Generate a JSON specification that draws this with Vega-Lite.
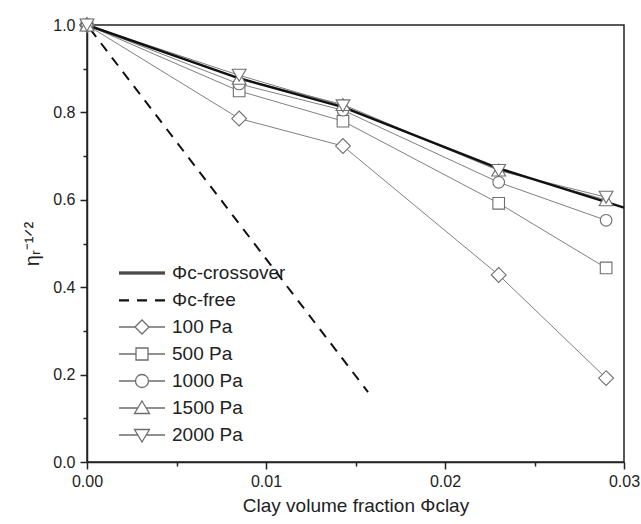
{
  "$schema": "https://vega.github.io/schema/vega-lite/v6.json",
  "width": 537,
  "height": 437,
  "autosize": {"type": "none"},
  "padding": {"left": 87, "top": 25, "right": 17, "bottom": 62},
  "background": "white",
  "config": {
    "font": "Liberation Sans",
    "view": {"stroke": "#222", "strokeWidth": 1.5},
    "axis": {
      "domainColor": "#222", "domainWidth": 1.5, "tickColor": "#222", "tickWidth": 1.5,
      "grid": false, "labelFont": "Liberation Sans", "labelFontSize": 16, "labelColor": "#222",
      "titleFont": "Liberation Sans", "titleFontWeight": "normal", "titleColor": "#222"
    },
    "legend": {
      "orient": "none", "legendX": 44, "legendY": 237, "padding": 0,
      "symbolSize": 400, "labelOffset": 19, "labelFontSize": 19, "labelFont": "Liberation Sans",
      "labelColor": "#222", "rowPadding": 6, "symbolStrokeWidth": 1.3, "labelLimit": 300
    }
  },
  "datasets": {
    "curves": [
      {"series": "Φc-crossover", "phi": 0, "eta": 1.0},
      {"series": "Φc-crossover", "phi": 0.0085, "eta": 0.878},
      {"series": "Φc-crossover", "phi": 0.0143, "eta": 0.812},
      {"series": "Φc-crossover", "phi": 0.023, "eta": 0.672},
      {"series": "Φc-crossover", "phi": 0.03, "eta": 0.582},
      {"series": "Φc-free", "phi": 0, "eta": 1.0},
      {"series": "Φc-free", "phi": 0.0157, "eta": 0.16},
      {"series": "100 Pa", "phi": 0, "eta": 1.0},
      {"series": "100 Pa", "phi": 0.0085, "eta": 0.786},
      {"series": "100 Pa", "phi": 0.0143, "eta": 0.723},
      {"series": "100 Pa", "phi": 0.023, "eta": 0.428},
      {"series": "100 Pa", "phi": 0.029, "eta": 0.192},
      {"series": "500 Pa", "phi": 0, "eta": 1.0},
      {"series": "500 Pa", "phi": 0.0085, "eta": 0.849},
      {"series": "500 Pa", "phi": 0.0143, "eta": 0.780},
      {"series": "500 Pa", "phi": 0.023, "eta": 0.592},
      {"series": "500 Pa", "phi": 0.029, "eta": 0.444},
      {"series": "1000 Pa", "phi": 0, "eta": 1.0},
      {"series": "1000 Pa", "phi": 0.0085, "eta": 0.865},
      {"series": "1000 Pa", "phi": 0.0143, "eta": 0.805},
      {"series": "1000 Pa", "phi": 0.023, "eta": 0.640},
      {"series": "1000 Pa", "phi": 0.029, "eta": 0.553},
      {"series": "1500 Pa", "phi": 0, "eta": 1.0},
      {"series": "1500 Pa", "phi": 0.0085, "eta": 0.878},
      {"series": "1500 Pa", "phi": 0.0143, "eta": 0.818},
      {"series": "1500 Pa", "phi": 0.023, "eta": 0.668},
      {"series": "1500 Pa", "phi": 0.029, "eta": 0.600},
      {"series": "2000 Pa", "phi": 0, "eta": 1.0},
      {"series": "2000 Pa", "phi": 0.0085, "eta": 0.885},
      {"series": "2000 Pa", "phi": 0.0143, "eta": 0.815},
      {"series": "2000 Pa", "phi": 0.023, "eta": 0.667},
      {"series": "2000 Pa", "phi": 0.029, "eta": 0.606}
    ]
  },
  "data": {"name": "curves"},
  "encoding": {
    "x": {
      "field": "phi", "type": "quantitative",
      "scale": {"domain": [0, 0.03], "nice": false, "zero": false},
      "axis": {
        "values": [0, 0.005, 0.01, 0.015, 0.02, 0.025, 0.03],
        "labelExpr": "round(datum.value*1000) % 10 == 0 ? format(datum.value, '.2f') : ''",
        "tickSize": {"condition": {"test": "round(datum.value*1000) % 10 == 0", "value": 7}, "value": 4},
        "labelPadding": 4, "labelFlush": false,
        "title": "Clay volume fraction Φclay", "titleFontSize": 19, "titlePadding": 7
      }
    },
    "y": {
      "field": "eta", "type": "quantitative",
      "scale": {"domain": [0, 1], "nice": false},
      "axis": {
        "values": [0, 0.1, 0.2, 0.3, 0.4, 0.5, 0.6, 0.7, 0.8, 0.9, 1.0],
        "labelExpr": "round(datum.value*10) % 2 == 0 ? format(datum.value, '.1f') : ''",
        "tickSize": {"condition": {"test": "round(datum.value*10) % 2 == 0", "value": 7}, "value": 4},
        "labelPadding": 5, "labelFlush": false,
        "title": "ηᵣ⁻¹ᐟ²", "titleFontSize": 20, "titlePadding": 10
      }
    }
  },
  "layer": [
    {
      "transform": [{"filter": "datum.series == 'Φc-free'"}],
      "mark": {"type": "line", "color": "#111", "strokeWidth": 2, "strokeDash": [10, 8], "strokeDashOffset": -5},
      "encoding": {}
    },
    {
      "transform": [{"filter": "datum.series != 'Φc-free' && datum.series != 'Φc-crossover'"}],
      "mark": {"type": "line", "color": "#808080", "strokeWidth": 1},
      "encoding": {"detail": {"field": "series", "type": "nominal"}}
    },
    {
      "transform": [{"filter": "datum.series == 'Φc-crossover'"}],
      "mark": {"type": "line", "color": "#111", "strokeWidth": 2.5},
      "encoding": {}
    },
    {
      "transform": [{"filter": "datum.series != 'Φc-free' && datum.series != 'Φc-crossover'"}],
      "mark": {"type": "point", "filled": false, "fill": "white", "fillOpacity": 1, "stroke": "#6e6e6e", "strokeWidth": 1.1, "opacity": 1},
      "encoding": {
        "shape": {
          "condition": [
            {"test": "datum.series == '100 Pa'", "value": "diamond"},
            {"test": "datum.series == '500 Pa'", "value": "square"},
            {"test": "datum.series == '1000 Pa'", "value": "circle"},
            {"test": "datum.series == '1500 Pa'", "value": "triangle-up"}
          ],
          "value": "triangle-down"
        },
        "size": {
          "condition": [
            {"test": "datum.series == '100 Pa'", "value": 220},
            {"test": "datum.series == '500 Pa'", "value": 135},
            {"test": "datum.series == '1000 Pa'", "value": 135}
          ],
          "value": 190
        }
      }
    },
    {
      "transform": [{"filter": "false"}],
      "mark": {"type": "point", "filled": false, "opacity": 1},
      "encoding": {
        "shape": {
          "field": "series", "type": "nominal",
          "scale": {
            "domain": ["Φc-crossover", "Φc-free", "100 Pa", "500 Pa", "1000 Pa", "1500 Pa", "2000 Pa"],
            "range": [
              "M-2.3,-0.08H2.3M-2.3,0.08H2.3",
              "M-2.3,0H-1.3M-0.5,0H0.5M1.3,0H2.3M-2.3,0.08H-1.3M-0.5,0.08H0.5M1.3,0.08H2.3",
              "M-2.3,0H-0.7M-0.7,0L0,-0.7L0.7,0L0,0.7ZM0.7,0H2.3",
              "M-2.3,0H-0.6M-0.6,-0.6H0.6V0.6H-0.6ZM0.6,0H2.3",
              "M-2.3,0H-0.65M-0.65,0A0.65,0.65 0 1,0 0.65,0A0.65,0.65 0 1,0 -0.65,0M0.65,0H2.3",
              "M-2.3,0H-0.42M0,-0.7L0.75,0.55H-0.75ZM0.42,0H2.3",
              "M-2.3,0H-0.42M0,0.7L0.75,-0.55H-0.75ZM0.42,0H2.3"
            ]
          },
          "legend": {"title": null}
        },
        "color": {
          "field": "series", "type": "nominal",
          "scale": {
            "domain": ["Φc-crossover", "Φc-free", "100 Pa", "500 Pa", "1000 Pa", "1500 Pa", "2000 Pa"],
            "range": ["#111", "#111", "#6e6e6e", "#6e6e6e", "#6e6e6e", "#6e6e6e", "#6e6e6e"]
          },
          "legend": {"title": null}
        }
      }
    }
  ]
}
